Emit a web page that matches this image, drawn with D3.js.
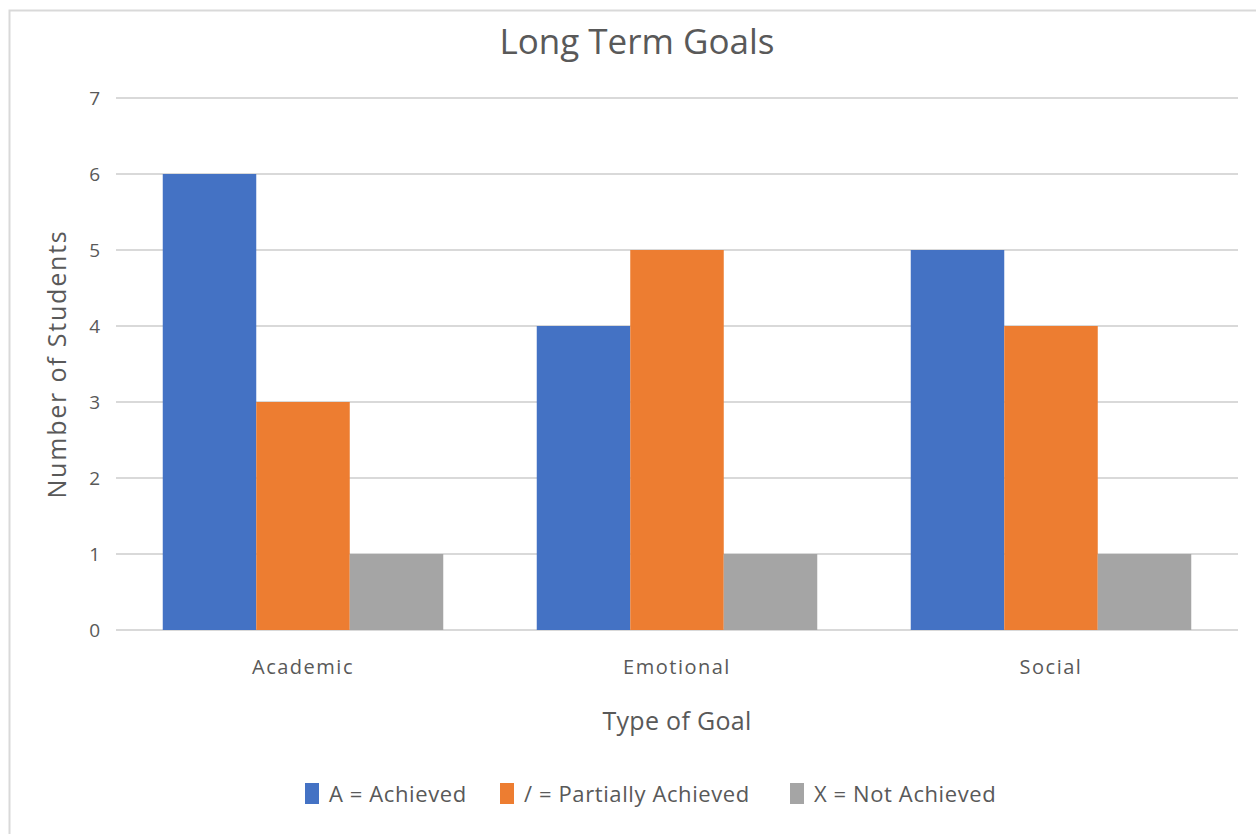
<!DOCTYPE html>
<html>
<head>
<meta charset="utf-8">
<script src="https://cdn.jsdelivr.net/npm/d3@7"></script>
<style>
  body { margin: 0; background: #fff; }
  text { font-family: "Open Sans", sans-serif; fill: #595959; }
</style>
</head>
<body>
<div id="chart"></div>
<script>
// chart values
var categories = ["Academic", "Emotional", "Social"];
var seriesNames = ["A = Achieved", "/ = Partially Achieved", "X = Not Achieved"];
var achieved = [6, 4, 5];
var partial = [3, 5, 4];
var notAchieved = [1, 1, 1];
var yTicks = [0, 1, 2, 3, 4, 5, 6, 7];

var colors = ["#4472c4", "#ed7d31", "#a5a5a5"];

var svgWidth = 1256;
var svgHeight = 834;
var margin = { top: 98, right: 18, bottom: 204, left: 116 };
var width = svgWidth - margin.left - margin.right;
var height = svgHeight - margin.top - margin.bottom;

var svg = d3.select("#chart")
  .append("svg")
  .attr("width", svgWidth)
  .attr("height", svgHeight);

// chart frame (only left and top edges visible)
svg.append("path")
  .attr("d", "M9.5,834 V10.5 H1256")
  .attr("fill", "none")
  .attr("stroke", "#d9d9d9")
  .attr("stroke-width", 2);

var chartGroup = svg.append("g")
  .attr("transform", `translate(${margin.left}, ${margin.top})`);

var x0 = d3.scaleBand()
  .domain(categories)
  .range([0, width])
  .paddingInner(0.25)
  .paddingOuter(0.125);

var x1 = d3.scaleBand()
  .domain(d3.range(seriesNames.length))
  .range([0, x0.bandwidth()]);

var y = d3.scaleLinear()
  .domain([0, 7])
  .range([height, 0]);

// gridlines
chartGroup.append("g")
  .selectAll("line")
  .data(yTicks)
  .enter()
  .append("line")
  .attr("x1", 0)
  .attr("x2", width)
  .attr("y1", d => y(d))
  .attr("y2", d => y(d))
  .attr("stroke", "#d9d9d9")
  .attr("stroke-width", 2);

// y axis labels
var yAxis = d3.axisLeft(y).tickValues(yTicks).tickFormat(d3.format("d")).tickSize(0).tickPadding(16);
var yAxisG = chartGroup.append("g").call(yAxis);
yAxisG.select(".domain").remove();
yAxisG.selectAll("text")
  .style("font-family", "Open Sans, sans-serif")
  .style("font-size", "19px")
  .style("fill", "#595959");

// bars
var rows = categories.map((c, i) => ({
  cat: c,
  values: [achieved[i], partial[i], notAchieved[i]]
}));

var groups = chartGroup.selectAll(".group")
  .data(rows)
  .enter()
  .append("g")
  .attr("transform", d => `translate(${x0(d.cat)},0)`);

groups.selectAll("rect")
  .data(d => d.values)
  .enter()
  .append("rect")
  .attr("x", (d, i) => x1(i))
  .attr("y", d => y(d))
  .attr("width", x1.bandwidth())
  .attr("height", d => height - y(d))
  .attr("fill", (d, i) => colors[i]);

// x axis labels
var xAxis = d3.axisBottom(x0).tickSize(0).tickPadding(30);
var xAxisG = chartGroup.append("g")
  .attr("transform", `translate(0,${height})`)
  .call(xAxis);
xAxisG.select(".domain").remove();
xAxisG.selectAll("text")
  .style("font-family", "Open Sans, sans-serif")
  .style("font-size", "20px")
  .style("letter-spacing", "1.5px")
  .style("fill", "#595959");

// title
svg.append("text")
  .attr("x", 637)
  .attr("y", 54)
  .attr("text-anchor", "middle")
  .style("font-size", "35px")
  .text("Long Term Goals");

// axis titles
svg.append("text")
  .attr("x", 677)
  .attr("y", 730)
  .attr("text-anchor", "middle")
  .style("font-size", "25px")
  .style("letter-spacing", "0.3px")
  .text("Type of Goal");

svg.append("text")
  .attr("transform", "translate(66,364) rotate(-90)")
  .attr("text-anchor", "middle")
  .style("font-size", "25px")
  .style("letter-spacing", "1.8px")
  .text("Number of Students");

// legend
var legendX = [305, 500, 790];
var legend = svg.selectAll(".legend")
  .data(seriesNames)
  .enter()
  .append("g")
  .attr("transform", (d, i) => `translate(${legendX[i]},783)`);

legend.append("rect")
  .attr("width", 14)
  .attr("height", 21)
  .attr("fill", (d, i) => colors[i]);

legend.append("text")
  .attr("x", 24)
  .attr("y", 19)
  .style("font-size", "22px")
  .style("letter-spacing", "0.6px")
  .text(d => d);
</script>
</body>
</html>
